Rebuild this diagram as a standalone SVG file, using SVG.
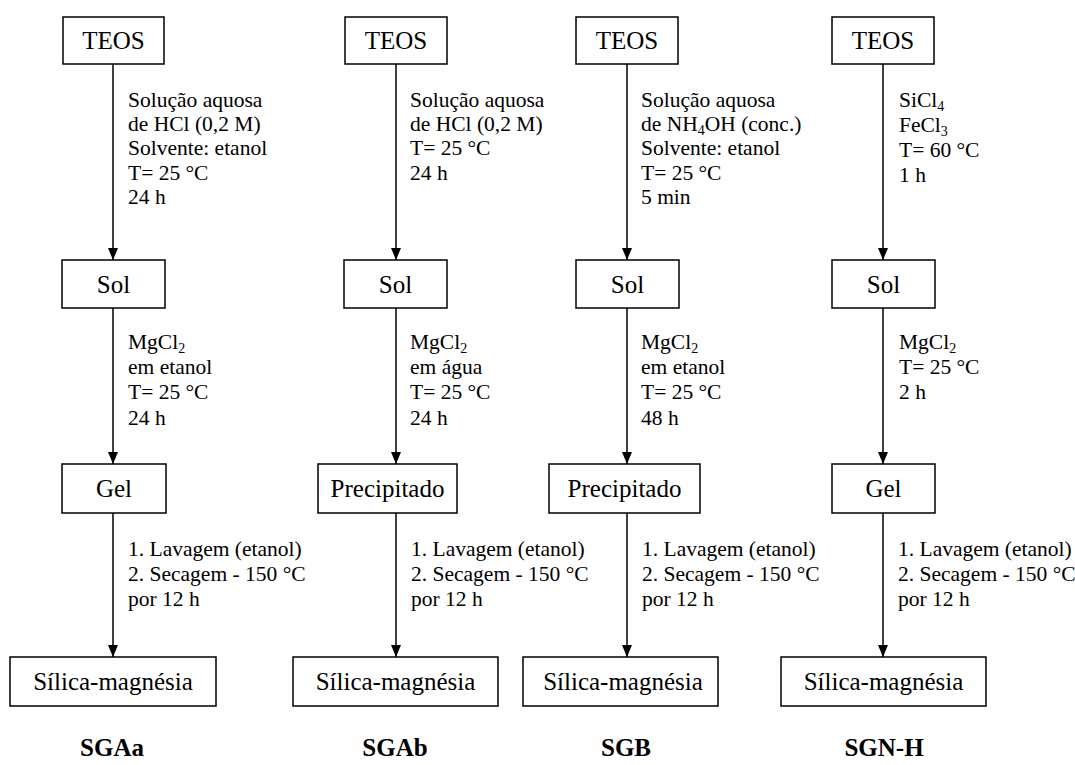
<svg xmlns="http://www.w3.org/2000/svg" width="1075" height="765" viewBox="0 0 1075 765">
<defs>
<marker id="ah" markerWidth="12" markerHeight="10" refX="12" refY="5" orient="auto" markerUnits="userSpaceOnUse">
<path d="M0,0 L12,5 L0,10 Z" fill="#000"/>
</marker>
<style>
.box{fill:#fff;stroke:#000;stroke-width:1.5}
.nt{font-size:25px;text-anchor:middle;fill:#000}
.lb{font-size:21.5px;fill:#000}
.sub{font-size:14px}
.ft{font-size:25px;font-weight:bold;text-anchor:middle;fill:#000}
.cn{stroke:#000;stroke-width:1.5;fill:none;marker-end:url(#ah)}
</style>
</defs>
<rect width="1075" height="765" fill="#fff"/>

<g id="connectors">
<line class="cn" x1="113" y1="64" x2="113" y2="260"/>
<line class="cn" x1="113" y1="308" x2="113" y2="464"/>
<line class="cn" x1="113" y1="513" x2="113" y2="657"/>
<line class="cn" x1="396" y1="64" x2="396" y2="260"/>
<line class="cn" x1="396" y1="308" x2="396" y2="464"/>
<line class="cn" x1="396" y1="513" x2="396" y2="657"/>
<line class="cn" x1="627" y1="64" x2="627" y2="260"/>
<line class="cn" x1="627" y1="308" x2="627" y2="464"/>
<line class="cn" x1="627" y1="513" x2="627" y2="657"/>
<line class="cn" x1="883" y1="64" x2="883" y2="260"/>
<line class="cn" x1="883" y1="308" x2="883" y2="464"/>
<line class="cn" x1="883" y1="513" x2="883" y2="657"/>
</g>

<g font-family="'Liberation Serif', 'DejaVu Serif', serif">
<g id="labels">
<text class="lb" x="128" y="107">Solução aquosa</text>
<text class="lb" x="128" y="131">de HCl (0,2 M)</text>
<text class="lb" x="128" y="155">Solvente: etanol</text>
<text class="lb" x="128" y="180">T= 25 °C</text>
<text class="lb" x="128" y="204">24 h</text>
<text class="lb" x="128" y="349">MgCl<tspan class="sub" dy="4">2</tspan></text>
<text class="lb" x="128" y="374">em etanol</text>
<text class="lb" x="128" y="399">T= 25 °C</text>
<text class="lb" x="128" y="425">24 h</text>
<text class="lb" x="128" y="556">1. Lavagem (etanol)</text>
<text class="lb" x="128" y="581">2. Secagem - 150 °C</text>
<text class="lb" x="128" y="606">por 12 h</text>

<text class="lb" x="410" y="107">Solução aquosa</text>
<text class="lb" x="410" y="131">de HCl (0,2 M)</text>
<text class="lb" x="410" y="155">T= 25 °C</text>
<text class="lb" x="410" y="180">24 h</text>
<text class="lb" x="410" y="349">MgCl<tspan class="sub" dy="4">2</tspan></text>
<text class="lb" x="410" y="374">em água</text>
<text class="lb" x="410" y="399">T= 25 °C</text>
<text class="lb" x="410" y="425">24 h</text>
<text class="lb" x="411" y="556">1. Lavagem (etanol)</text>
<text class="lb" x="411" y="581">2. Secagem - 150 °C</text>
<text class="lb" x="411" y="606">por 12 h</text>

<text class="lb" x="641" y="107">Solução aquosa</text>
<text class="lb" x="641" y="131">de NH<tspan class="sub" dy="4">4</tspan><tspan dy="-4">OH (conc.)</tspan></text>
<text class="lb" x="641" y="155">Solvente: etanol</text>
<text class="lb" x="641" y="180">T= 25 °C</text>
<text class="lb" x="641" y="204">5 min</text>
<text class="lb" x="641" y="349">MgCl<tspan class="sub" dy="4">2</tspan></text>
<text class="lb" x="641" y="374">em etanol</text>
<text class="lb" x="641" y="399">T= 25 °C</text>
<text class="lb" x="641" y="425">48 h</text>
<text class="lb" x="642" y="556">1. Lavagem (etanol)</text>
<text class="lb" x="642" y="581">2. Secagem - 150 °C</text>
<text class="lb" x="642" y="606">por 12 h</text>

<text class="lb" x="899" y="107">SiCl<tspan class="sub" dy="4">4</tspan></text>
<text class="lb" x="899" y="132">FeCl<tspan class="sub" dy="4">3</tspan></text>
<text class="lb" x="899" y="157">T= 60 °C</text>
<text class="lb" x="899" y="182">1 h</text>
<text class="lb" x="899" y="349">MgCl<tspan class="sub" dy="4">2</tspan></text>
<text class="lb" x="899" y="374">T= 25 °C</text>
<text class="lb" x="899" y="399">2 h</text>
<text class="lb" x="898" y="556">1. Lavagem (etanol)</text>
<text class="lb" x="898" y="581">2. Secagem - 150 °C</text>
<text class="lb" x="898" y="606">por 12 h</text>
</g>

<g id="teos1"><rect class="box" x="63" y="17" width="101" height="47"/><text class="nt" x="113.5" y="49">TEOS</text></g>
<g id="teos2"><rect class="box" x="345" y="17" width="102" height="47"/><text class="nt" x="396" y="49">TEOS</text></g>
<g id="teos3"><rect class="box" x="576" y="17" width="102" height="47"/><text class="nt" x="627" y="49">TEOS</text></g>
<g id="teos4"><rect class="box" x="832" y="17" width="102" height="47"/><text class="nt" x="883" y="49">TEOS</text></g>

<g id="sol1"><rect class="box" x="62" y="260" width="103" height="48"/><text class="nt" x="113.5" y="293">Sol</text></g>
<g id="sol2"><rect class="box" x="344" y="260" width="103" height="48"/><text class="nt" x="395.5" y="293">Sol</text></g>
<g id="sol3"><rect class="box" x="576" y="260" width="103" height="48"/><text class="nt" x="627.5" y="293">Sol</text></g>
<g id="sol4"><rect class="box" x="832" y="260" width="103" height="48"/><text class="nt" x="883.5" y="293">Sol</text></g>

<g id="gel1"><rect class="box" x="62" y="464" width="104" height="49"/><text class="nt" x="114" y="497">Gel</text></g>
<g id="prec2"><rect class="box" x="318" y="464" width="139" height="49"/><text class="nt" x="387.5" y="497">Precipitado</text></g>
<g id="prec3"><rect class="box" x="549" y="464" width="151" height="49"/><text class="nt" x="624.5" y="497">Precipitado</text></g>
<g id="gel4"><rect class="box" x="832" y="464" width="103" height="49"/><text class="nt" x="883.5" y="497">Gel</text></g>

<g id="sm1"><rect class="box" x="10" y="657" width="206" height="49"/><text class="nt" x="113" y="690">Sílica-magnésia</text></g>
<g id="sm2"><rect class="box" x="293" y="657" width="205" height="49"/><text class="nt" x="395.5" y="690">Sílica-magnésia</text></g>
<g id="sm3"><rect class="box" x="523" y="657" width="195" height="49"/><text class="nt" x="623" y="690">Sílica-magnésia</text></g>
<g id="sm4"><rect class="box" x="781" y="657" width="205" height="49"/><text class="nt" x="883.5" y="690">Sílica-magnésia</text></g>

<g id="titles">
<text class="ft" x="112" y="756">SGAa</text>
<text class="ft" x="395" y="756">SGAb</text>
<text class="ft" x="626" y="756">SGB</text>
<text class="ft" x="884" y="756">SGN-H</text>
</g>
</g>
</svg>
